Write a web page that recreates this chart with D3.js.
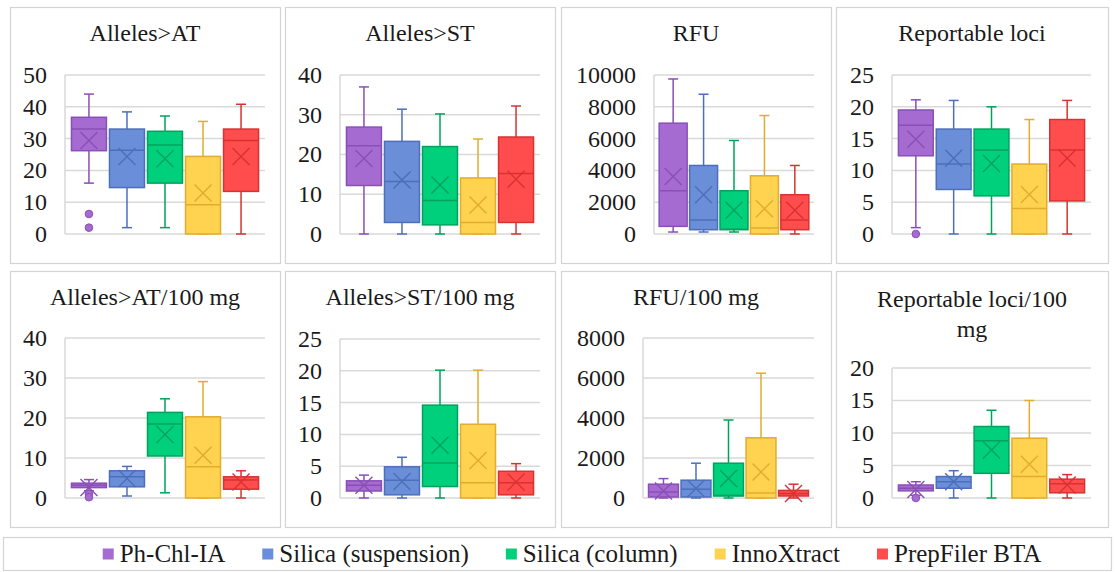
<!DOCTYPE html>
<html><head><meta charset="utf-8">
<script src="https://cdn.jsdelivr.net/npm/d3@7"></script>
<style>
html,body{margin:0;padding:0;background:#fff;}
svg{display:block;}
svg text{font-family:"Liberation Serif", serif !important;}
</style></head>
<body>
<svg id="chart" width="1115" height="572" font-family="Liberation Serif"></svg>
<script>
// ---- data ----
const categories = ["Ph-Chl-IA", "Silica (suspension)", "Silica (column)", "InnoXtract", "PrepFiler BTA"];
const fillColors = ["#a66bd0", "#6a8fd8", "#00cf7b", "#ffd24f", "#ff4d4d"];
const lineColors = ["#8a4fb6", "#4d6fba", "#00a35d", "#e2ac2e", "#d83232"];

// each row: [whiskerLow, q1, median, q3, whiskerHigh, mean]
const allelesAT = [[16,26.2,33,36.7,44,29.4],[2,14.6,26.3,33,38.4,24.4],[2,16,28,32.3,37.1,23.7],[0,0,9.2,24.4,35.4,12.9],[0,13.4,29.4,33,40.8,24.4]];
const allelesATOutliers = [[6.3,2],[],[],[],[]];
const allelesATTicks = [0,10,20,30,40,50];

const allelesST = [[0,12.2,22.2,26.9,37,19],[0,2.9,13.2,23.3,31.4,13.6],[0,2.3,8.4,22,30.2,12.3],[0,0,2.9,14.1,23.9,7.3],[0,2.9,15.2,24.4,32.2,13.8]];
const allelesSTOutliers = [[],[],[],[],[]];
const allelesSTTicks = [0,10,20,30,40];

const rfu = [[125,480,2720,6970,9750,3620],[125,270,880,4310,8790,2470],[125,270,300,2720,5880,1490],[0,0,380,3660,7450,1590],[0,270,880,2470,4310,1490]];
const rfuOutliers = [[],[],[],[],[]];
const rfuTicks = [0,2000,4000,6000,8000,10000];

const loci = [[1,12.3,17.1,19.5,21.1,14.9],[0,7,11,16.5,21,11.9],[0,6,13.2,16.5,20,11.1],[0,0,4,11,18,6.2],[0,5.2,13.2,18,21,11.9]];
const lociOutliers = [[0],[],[],[],[]];
const lociTicks = [0,5,10,15,20,25];

const allelesATmg = [[1.8,2.6,3.2,3.7,4.6,2.6],[0.5,2.8,5.3,6.8,7.9,4.9],[1.3,10.5,18.5,21.4,24.8,15.9],[0,0,7.8,20.3,29.1,10.7],[0,2.2,4.5,5.3,6.8,4]];
const allelesATmgOutliers = [[1.0,0.2],[],[],[],[]];
const allelesATmgTicks = [0,10,20,30,40];

const allelesSTmg = [[0,1.1,2,2.7,3.6,2],[0,0.5,2.8,4.9,6.4,2.6],[0,1.8,5.5,14.6,20.1,8.3],[0,0,2.4,11.6,20.1,5.9],[0,0.5,2.4,4.2,5.4,2.5]];
const allelesSTmgOutliers = [[],[],[],[],[]];
const allelesSTmgTicks = [0,5,10,15,20,25];

const rfuMg = [[0,50,300,690,970,350],[0,50,440,890,1740,470],[0,100,130,1740,3900,970],[0,0,250,3010,6240,1300],[0,100,220,380,690,220]];
const rfuMgOutliers = [[],[],[],[],[]];
const rfuMgTicks = [0,2000,4000,6000,8000];

const lociMg = [[0.4,1.1,1.5,2,2.5,1.3],[0,1.5,2.5,3.3,4.2,2.5],[0,3.8,8.8,11,13.5,7.4],[0,0,3.3,9.2,15,5.2],[0,0.8,2.2,2.9,3.6,2]];
const lociMgOutliers = [[0],[],[],[],[]];
const lociMgTicks = [0,5,10,15,20];

const titles = [["Alleles>AT"],["Alleles>ST"],["RFU"],["Reportable loci"],["Alleles>AT/100 mg"],["Alleles>ST/100 mg"],["RFU/100 mg"],["Reportable loci/100","mg"]];

// ---- layout ----
const FONT = "Liberation Serif";
const panels = [
  {t:titles[0], d:allelesAT, o:allelesATOutliers, ticks:allelesATTicks, frame:[10,7,280,263], plot:[65,75,265,234], ty:[41]},
  {t:titles[1], d:allelesST, o:allelesSTOutliers, ticks:allelesSTTicks, frame:[285,7,555,263], plot:[340,75,540,234], ty:[41]},
  {t:titles[2], d:rfu, o:rfuOutliers, ticks:rfuTicks, frame:[561,7,831,263], plot:[654,75,814,234], ty:[41]},
  {t:titles[3], d:loci, o:lociOutliers, ticks:lociTicks, frame:[836,7,1108,263], plot:[892,75,1091,234], ty:[41]},
  {t:titles[4], d:allelesATmg, o:allelesATmgOutliers, ticks:allelesATmgTicks, frame:[10,271,280,527], plot:[65,338,265,498], ty:[305]},
  {t:titles[5], d:allelesSTmg, o:allelesSTmgOutliers, ticks:allelesSTmgTicks, frame:[285,271,555,527], plot:[340,339,540,498], ty:[305]},
  {t:titles[6], d:rfuMg, o:rfuMgOutliers, ticks:rfuMgTicks, frame:[561,271,831,527], plot:[643,338,814,498], ty:[305]},
  {t:titles[7], d:lociMg, o:lociMgOutliers, ticks:lociMgTicks, frame:[836,271,1108,527], plot:[892,368,1091,498], ty:[307,337]}
];

const svg = d3.select("#chart");

function addText(g, x, y, str, size, anchor, dy) {
  return g.append("text").attr("x", x).attr("y", y).attr("dy", dy || 0)
    .attr("text-anchor", anchor)
    .attr("font-family", FONT)
    .style("font-family", FONT, "important")
    .style("font-size", size + "px").style("fill", "#1a1a1a").text(str);
}

panels.forEach(p => {
  const g = svg.append("g");
  const [fx0, fy0, fx1, fy1] = p.frame;
  g.append("rect").attr("x", fx0 + 0.5).attr("y", fy0 + 0.5)
    .attr("width", fx1 - fx0).attr("height", fy1 - fy0)
    .attr("fill", "#fff").attr("stroke", "#d4d4d4").attr("stroke-width", 1.2);

  const cx = (fx0 + fx1) / 2;
  p.t.forEach((line, i) => addText(g, cx, p.ty[i], line, 24, "middle"));

  const [px0, py0, px1, py1] = p.plot;
  const y = d3.scaleLinear().domain([0, d3.max(p.ticks)]).range([py1, py0]);
  const x = d3.scaleBand().domain(categories).range([px0, px1]).paddingInner(0.08).paddingOuter(0.17);

  g.selectAll(".grid").data(p.ticks).join("line")
    .attr("x1", px0).attr("x2", px1)
    .attr("y1", d => y(d)).attr("y2", d => y(d))
    .attr("stroke", "#d9d9d9").attr("stroke-width", 1.5);
  g.append("line").attr("x1", px0).attr("x2", px0).attr("y1", py0).attr("y2", py1)
    .attr("stroke", "#d9d9d9").attr("stroke-width", 1.5);

  p.ticks.forEach(t => addText(g, px0 - 18, y(t), String(t), 24, "end", "0.33em"));

  p.d.forEach((s, i) => {
    const [lo, q1, med, q3, hi, mean] = s;
    const c = categories[i];
    const bx = x(c), bw = x.bandwidth(), mx = bx + bw / 2;
    const col = lineColors[i];
    const bg = g.append("g");
    bg.append("line").attr("x1", mx).attr("x2", mx).attr("y1", y(hi)).attr("y2", y(q3))
      .attr("stroke", col).attr("stroke-width", 1.5);
    bg.append("line").attr("x1", mx).attr("x2", mx).attr("y1", y(q1)).attr("y2", y(lo))
      .attr("stroke", col).attr("stroke-width", 1.5);
    [hi, lo].forEach(v => bg.append("line").attr("x1", mx - 5).attr("x2", mx + 5)
      .attr("y1", y(v)).attr("y2", y(v)).attr("stroke", col).attr("stroke-width", 1.5));
    bg.append("rect").attr("x", bx).attr("y", y(q3)).attr("width", bw)
      .attr("height", Math.max(0.5, y(q1) - y(q3)))
      .attr("fill", fillColors[i]).attr("stroke", col).attr("stroke-width", 1.5);
    bg.append("line").attr("x1", bx).attr("x2", bx + bw).attr("y1", y(med)).attr("y2", y(med))
      .attr("stroke", col).attr("stroke-width", 1.5);
    const my = y(mean), r = 8.5;
    bg.append("path").attr("d", `M${mx - r},${my - r}L${mx + r},${my + r}M${mx - r},${my + r}L${mx + r},${my - r}`)
      .attr("stroke", col).attr("stroke-width", 1.4).attr("fill", "none");
    p.o[i].forEach(v => bg.append("circle").attr("cx", mx).attr("cy", y(v)).attr("r", 3.8)
      .attr("fill", fillColors[i]).attr("stroke", col).attr("stroke-width", 1));
  });
});

// legend
const lg = svg.append("g");
lg.append("rect").attr("x", 3.5).attr("y", 537.5).attr("width", 1108).attr("height", 33)
  .attr("fill", "#fff").attr("stroke", "#d4d4d4").attr("stroke-width", 1.2);
const items = [];
let cur = 0;
const gap = 37, sq = 11, sqGap = 6;
categories.forEach((c, i) => {
  const ig = lg.append("g");
  ig.append("rect").attr("x", 0).attr("y", -sq / 2).attr("width", sq).attr("height", sq).attr("fill", fillColors[i]);
  const t = addText(ig, sq + sqGap, 0, c, 25, "start", "0.33em");
  items.push({g: ig, t: t, x: 0});
});
function layoutLegend() {
  let cur = 0;
  items.forEach(it => {
    it.x = cur;
    cur += sq + sqGap + it.t.node().getComputedTextLength() + gap;
  });
  const start = 572 - (cur - gap) / 2;
  items.forEach(it => it.g.attr("transform", `translate(${start + it.x},554)`));
}
layoutLegend();
</script>
</body></html>
